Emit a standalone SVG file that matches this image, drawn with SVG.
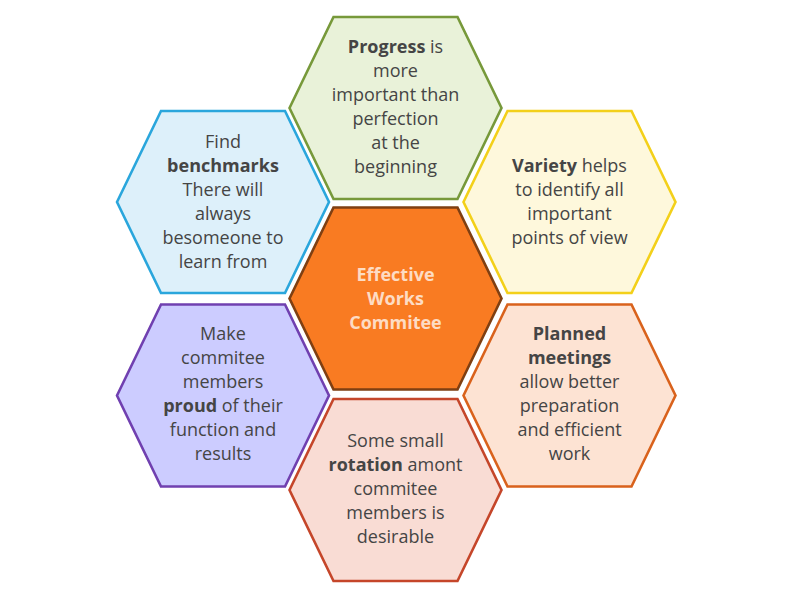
<svg xmlns="http://www.w3.org/2000/svg" width="800" height="600" viewBox="0 0 800 600">
<defs>
<polygon id="hex" points="-106,0 -62,-91 62,-91 106,0 62,91 -62,91"/>
</defs>
<style>
.h{stroke-width:2.6;stroke-linejoin:miter}
text{font-family:"Open Sans","Noto Sans","Liberation Sans",sans-serif;font-size:18px;fill:#454545;text-anchor:middle}
.b{font-weight:bold}
.c{fill:#FDDCC4;font-weight:bold}
</style>
<rect width="800" height="600" fill="#FFFFFF"/>
<g id="connectors"></g>
<g id="top">
<use href="#hex" x="395.5" y="108" class="h" fill="#E9F2D9" stroke="#77993A"/>
<text x="395.5" y="53"><tspan class="b">Progress</tspan> is</text>
<text x="395.5" y="77">more</text>
<text x="395.5" y="101">important than</text>
<text x="395.5" y="125">perfection</text>
<text x="395.5" y="149">at the</text>
<text x="395.5" y="173">beginning</text>
</g>
<g id="leftTop">
<use href="#hex" x="223" y="202" class="h" fill="#DDF0FA" stroke="#2AA6DC"/>
<text x="223" y="148">Find</text>
<text x="223" y="172" class="b">benchmarks</text>
<text x="223" y="196">There will</text>
<text x="223" y="220">always</text>
<text x="223" y="244">besomeone to</text>
<text x="223" y="268">learn from</text>
</g>
<g id="rightTop">
<use href="#hex" x="569.5" y="202" class="h" fill="#FEF8DC" stroke="#F3D01A"/>
<text x="569.5" y="172"><tspan class="b">Variety</tspan> helps</text>
<text x="569.5" y="196">to identify all</text>
<text x="569.5" y="220">important</text>
<text x="569.5" y="244">points of view</text>
</g>
<g id="center">
<use href="#hex" x="395.5" y="298.5" class="h" fill="#F97B22" stroke="#7F3F12"/>
<text x="395.5" y="281" class="c">Effective</text>
<text x="395.5" y="305" class="c">Works</text>
<text x="395.5" y="329" class="c">Commitee</text>
</g>
<g id="leftBottom">
<use href="#hex" x="223" y="395.5" class="h" fill="#CCCCFF" stroke="#7040B0"/>
<text x="223" y="340">Make</text>
<text x="223" y="364">commitee</text>
<text x="223" y="388">members</text>
<text x="223" y="412"><tspan class="b">proud</tspan> of their</text>
<text x="223" y="436">function and</text>
<text x="223" y="460">results</text>
</g>
<g id="rightBottom">
<use href="#hex" x="569.5" y="395.5" class="h" fill="#FDE3D3" stroke="#D9621C"/>
<text x="569.5" y="340" class="b">Planned</text>
<text x="569.5" y="364" class="b">meetings</text>
<text x="569.5" y="388">allow better</text>
<text x="569.5" y="412">preparation</text>
<text x="569.5" y="436">and efficient</text>
<text x="569.5" y="460">work</text>
</g>
<g id="bottom">
<use href="#hex" x="395.5" y="490" class="h" fill="#F9DCD4" stroke="#C5462A"/>
<text x="395.5" y="447">Some small</text>
<text x="395.5" y="471"><tspan class="b">rotation</tspan> amont</text>
<text x="395.5" y="495">commitee</text>
<text x="395.5" y="519">members is</text>
<text x="395.5" y="543">desirable</text>
</g>
</svg>
